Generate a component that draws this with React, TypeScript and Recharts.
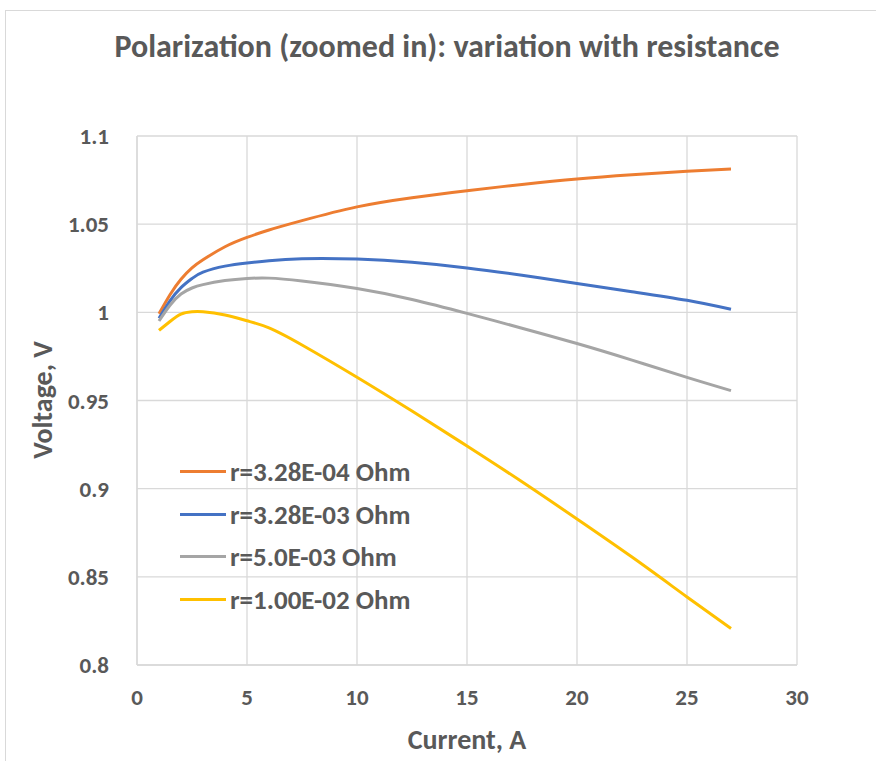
import React from "react";
import { CartesianGrid, Line, LineChart, XAxis, YAxis } from "recharts";

const currents = [1, 1.5, 2, 2.5, 3, 4, 5, 6, 7.5, 10, 12.5, 15, 17.5, 20, 22.5, 25, 27];
const vLow = [0.9992, 1.01, 1.0188, 1.0252, 1.0298, 1.0372, 1.0425, 1.0467, 1.052, 1.0598, 1.065, 1.069, 1.0725, 1.0756, 1.078, 1.08, 1.0813];
const vMid = [0.9966, 1.0065, 1.014, 1.0192, 1.0228, 1.0262, 1.028, 1.0293, 1.0304, 1.0302, 1.0284, 1.0252, 1.021, 1.0164, 1.0117, 1.0068, 1.0017];
const vHigh = [0.9951, 1.004, 1.0104, 1.0138, 1.0157, 1.018, 1.0192, 1.0194, 1.0178, 1.0135, 1.0073, 0.9994, 0.991, 0.9823, 0.9729, 0.9631, 0.9556];
const vMax = [0.9898, 0.9948, 0.999, 1.0003, 1.0003, 0.9985, 0.9952, 0.9912, 0.9815, 0.9632, 0.944, 0.9242, 0.9039, 0.8828, 0.8612, 0.8386, 0.8207];

const xTicks = [0, 5, 10, 15, 20, 25, 30];
const yTicks = [0.8, 0.85, 0.9, 0.95, 1, 1.05, 1.1];

const series = [
  { key: "low", name: "r=3.28E-04 Ohm", color: "#ED7D31" },
  { key: "mid", name: "r=3.28E-03 Ohm", color: "#4472C4" },
  { key: "high", name: "r=5.0E-03 Ohm", color: "#A5A5A5" },
  { key: "max", name: "r=1.00E-02 Ohm", color: "#FFC000" },
];

const data = currents.map((i, idx) => ({
  i,
  low: vLow[idx],
  mid: vMid[idx],
  high: vHigh[idx],
  max: vMax[idx],
}));

const FONT = "Carlito, Calibri, 'Open Sans', sans-serif";
const TEXT = "#595959";

const tick = { fontSize: 23, fontWeight: 700, fill: TEXT, fontFamily: FONT };

export default function App() {
  return (
    <div style={{ position: "absolute", left: 0, top: 0, width: 876, height: 761, background: "#fff", overflow: "hidden" }}>
      <div style={{ position: "absolute", left: 5, top: 10, width: 900, height: 800, border: "1px solid #d9d9d9" }} />
      <div style={{ position: "absolute", left: 0, top: 27, width: 894, textAlign: "center", fontFamily: FONT, fontWeight: 700, fontSize: 32, color: TEXT }}>
        Polarization (zoomed in): variation with resistance
      </div>
      <div style={{ position: "absolute", left: 137, width: 660, top: 722, textAlign: "center", fontFamily: FONT, fontWeight: 700, fontSize: 28, color: TEXT }}>
        Current, A
      </div>
      <div style={{ position: "absolute", left: 42, top: 400, transform: "translate(-50%, -50%) rotate(-90deg)", whiteSpace: "nowrap", fontFamily: FONT, fontWeight: 700, fontSize: 28, color: TEXT }}>
        Voltage, V
      </div>
      <div style={{ position: "absolute", left: 0, top: 0 }}>
        <LineChart width={876} height={761} data={data} margin={{ top: 136, right: 79, left: 77, bottom: 56 }}>
          <CartesianGrid stroke="#d9d9d9" strokeWidth={1.3} />
          <XAxis
            dataKey="i"
            type="number"
            domain={[0, 30]}
            ticks={xTicks}
            height={40}
            tick={tick}
            tickLine={false}
            axisLine={{ stroke: "#d9d9d9", strokeWidth: 1.3 }}
            tickMargin={18}
          />
          <YAxis
            type="number"
            domain={[0.8, 1.1]}
            ticks={yTicks}
            width={60}
            tick={tick}
            tickLine={false}
            axisLine={{ stroke: "#d9d9d9", strokeWidth: 1.3 }}
            tickMargin={22}
            tickFormatter={(v: number) => String(Number(v.toFixed(2)))}
            interval={0}
          />
          {series.map((s) => (
            <Line
              key={s.key}
              type="natural"
              dataKey={s.key}
              name={s.name}
              stroke={s.color}
              strokeWidth={3}
              dot={false}
              isAnimationActive={false}
            />
          ))}
        </LineChart>
      </div>
      <div style={{ position: "absolute", left: 180, top: 450, fontFamily: FONT, fontWeight: 700, fontSize: 27, color: TEXT }}>
        {series.map((s) => (
          <div key={s.key} style={{ display: "flex", alignItems: "center", height: 42.7 }}>
            <span style={{ display: "inline-block", width: 46, height: 3, background: s.color, marginRight: 4 }} />
            {s.name}
          </div>
        ))}
      </div>
    </div>
  );
}
